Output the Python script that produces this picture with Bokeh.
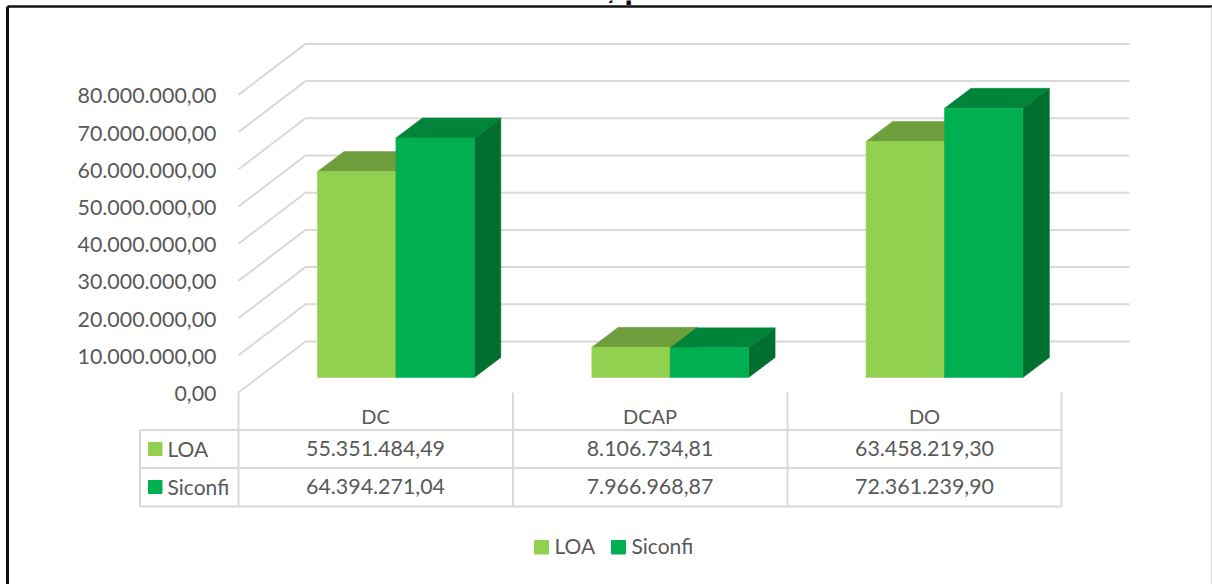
from bokeh.core.properties import value
from bokeh.embed import file_html
from bokeh.models import Range1d
from bokeh.plotting import figure
from bokeh.resources import INLINE

# Planned (LOA) and reported (Siconfi) amounts per budget group
categories = ["DC", "DCAP", "DO"]
loa = [55351484.49, 8106734.81, 63458219.30]
siconfi = [64394271.04, 7966968.87, 72361239.90]
tick_values = [0, 10e6, 20e6, 30e6, 40e6, 50e6, 60e6, 70e6, 80e6]
series_names = ["LOA", "Siconfi"]

FRONT = {"LOA": "#92D050", "Siconfi": "#00B050"}
TOP = {"LOA": "#6F9E3C", "Siconfi": "#00843A"}
SIDE = {"LOA": "#567C2E", "Siconfi": "#006F30"}
GRID = "#D9D9D9"
TEXT = "#595959"
FONT = value("Lato")

WIDTH, HEIGHT = 1212, 584
PX_PER_CAT = 274.3       # width of one category column
PX_PER_UNIT = 3.72e-6    # pixels per currency unit
PLOT_LEFT = 238          # x of the front-left corner of the floor
BASE_Y = 377             # y of the bars' front edge


def brl(v):
    """Format a number with Brazilian separators."""
    return f"{v:,.2f}".replace(",", "#").replace(".", ",").replace("#", ".")


def x_of(px):
    return px / PX_PER_CAT


def v_of(px):
    return px / PX_PER_UNIT


p = figure(
    width=WIDTH, height=HEIGHT, output_backend="svg", toolbar_location=None,
    x_axis_location=None, y_axis_location=None, min_border=0,
    x_range=Range1d(-PLOT_LEFT / PX_PER_CAT, (WIDTH - PLOT_LEFT) / PX_PER_CAT),
    y_range=Range1d((BASE_Y - HEIGHT) / PX_PER_UNIT, BASE_Y / PX_PER_UNIT),
    background_fill_color="white", border_fill_color="white",
    outline_line_color=None,
)
p.grid.visible = False

# Pixel-addressed ranges for the table, the legend and the frame
p.extra_x_ranges["px"] = Range1d(0, WIDTH)
p.extra_y_ranges["px"] = Range1d(HEIGHT, 0)
PX = dict(x_range_name="px", y_range_name="px")

# Wall and floor gridlines, one per tick value
BACK_SHIFT = v_of(BASE_Y - 341)
FRONT_SHIFT = v_of(BASE_Y - 392)
WALL_DX = x_of(305 - PLOT_LEFT)
WALL_END = x_of(1129 - PLOT_LEFT)
for t in tick_values:
    p.line([0, WALL_DX, WALL_END], [t + FRONT_SHIFT, t + BACK_SHIFT, t + BACK_SHIFT],
           line_color=GRID, line_width=2)

# Three-faced bars: top and side faces sit behind the front face
BAR_START = x_of(317 - PLOT_LEFT)
BAR_W = x_of(78.4)
DX = x_of(26.5)
DY = v_of(20)
for i in range(len(categories)):
    for s, (name, vals) in enumerate(zip(series_names, (loa, siconfi))):
        h = vals[i]
        x0 = i + BAR_START + s * BAR_W
        x1 = x0 + BAR_W
        p.patch([x1, x1 + DX, x1 + DX, x1], [0, DY, h + DY, h], color=SIDE[name], line_width=0.5)
        p.patch([x0, x0 + DX, x1 + DX, x1], [h, h + DY, h + DY, h], color=TOP[name], line_width=0.5)
        p.quad(left=x0, right=x1, bottom=0, top=h, color=FRONT[name], line_width=0.5)

# Value labels beside the front edge of the wall
p.text([-x_of(22)] * len(tick_values), [t + FRONT_SHIFT - v_of(1) for t in tick_values],
       text=[brl(t) for t in tick_values], text_align="right", text_baseline="middle",
       text_font=FONT, text_font_size="21.4px", text_color=TEXT)

# Data table under the plot
COL_X = [238, 512.5, 787, 1061]
ROW_Y = [429.5, 467.5, 506]
p.multi_line([[x, x] for x in COL_X], [[392, 506]] * 4, line_color=GRID, line_width=2, **PX)
p.multi_line([[139.5, 139.5]], [[429.5, 506]], line_color=GRID, line_width=2, **PX)
p.multi_line([[139.5, 1061]] * 3, [[y, y] for y in ROW_Y], line_color=GRID, line_width=2, **PX)

centers = [375, 649.5, 924]
p.text(centers, [415] * 3, text=categories, text_align="center", text_baseline="middle",
       text_font=FONT, text_font_size="20px", text_color=TEXT, **PX)
for y, vals, name in zip((448.5, 486.5), (loa, siconfi), series_names):
    p.text(centers, [y - 1] * 3, text=[brl(v) for v in vals], text_align="center", text_baseline="middle",
           text_font=FONT, text_font_size="21.4px", text_color=TEXT, **PX)
    p.quad(left=[148], right=[161.5], top=[y - 6.5], bottom=[y + 6.5], color=FRONT[name], **PX)
    p.text([167], [y - 1], text=[name], text_baseline="middle",
           text_font=FONT, text_font_size="21px", text_color=TEXT, **PX)

# Legend row
for x_sw, x_txt, name in zip((534, 611), (554, 631), series_names):
    p.quad(left=[x_sw], right=[x_sw + 14], top=[540], bottom=[553.5], color=FRONT[name], **PX)
    p.text([x_txt], [545], text=[name], text_baseline="middle",
           text_font=FONT, text_font_size="21px", text_color=TEXT, **PX)

# Heading running off the top edge, then the frame around the chart
p.text([606], [-14], text=[", p"], text_baseline="alphabetic",
       text_font=value("Liberation Sans"), text_font_style="bold", text_font_size="32px",
       text_color="#111111", **PX)
p.line([7, 7], [584, 6], line_color="#111111", line_width=3, **PX)
p.line([7, 1212], [6, 6], line_color="#111111", line_width=2.5, **PX)
p.line([1211, 1211], [7, 584], line_color="#DDDDDD", line_width=1.5, **PX)

open("out.html", "w").write(file_html(p, INLINE))
